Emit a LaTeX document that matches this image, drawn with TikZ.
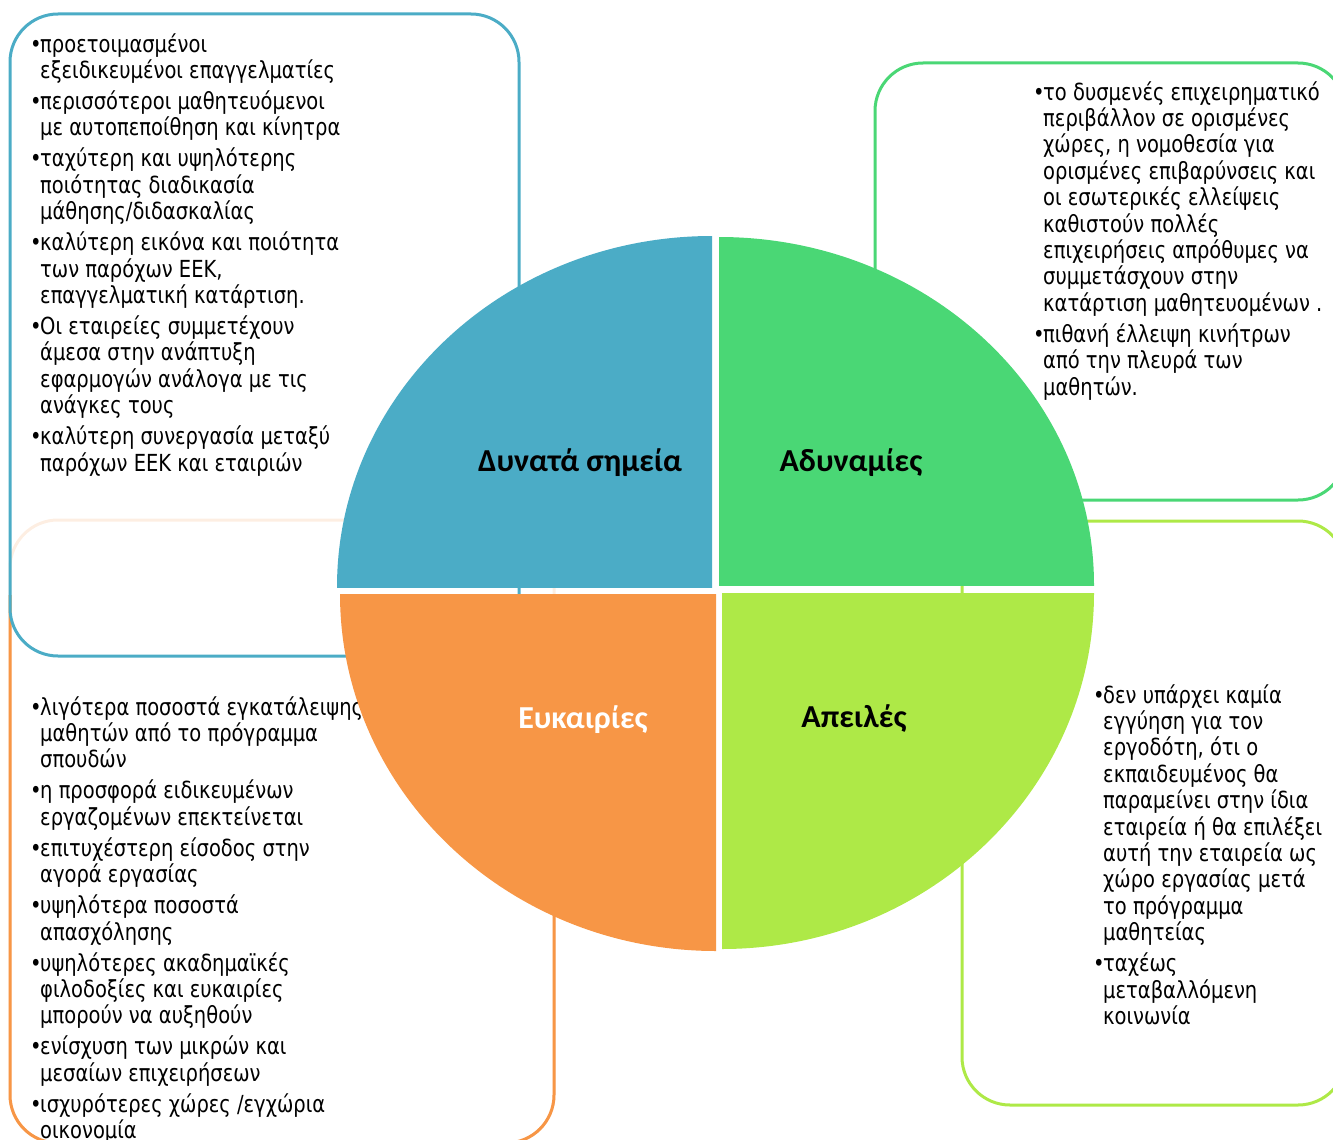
\documentclass[tikz,border=0pt]{standalone}
\usepackage{fontspec}
\setmainfont{DejaVu Sans}[FakeStretch=0.83]
\newfontfamily\labfont{Carlito}
\definecolor{cblue}{HTML}{4BACC6}
\definecolor{cgreen}{HTML}{4AD775}
\definecolor{corange}{HTML}{F79646}
\definecolor{clime}{HTML}{AEE947}
\definecolor{cpeach}{HTML}{FDEEE2}
\newcommand\bul{\makebox[10pt][l]{•}}
\newcommand\ind{\hspace*{10pt}}
\tikzset{
  swbox/.style={line width=3pt, rounded corners=48pt},
  txt/.style={inner sep=0pt, anchor=base west, align=left, font=\fontsize{23.5}{26.4}\selectfont},
  lab/.style={inner sep=0pt, font=\labfont\bfseries\fontsize{32}{38}\selectfont}
}
\begin{document}
\begin{tikzpicture}[x=1pt,y=-1pt]
\useasboundingbox (0,0) rectangle (1333,1140);
\clip (0,0) rectangle (1333,1140);
% background boxes
\draw[swbox, cpeach] (10,520) rectangle (554,1143);
\begin{scope}
  \clip (0,595) rectangle (1333,1200);
  \draw[swbox, corange] (10,520) rectangle (554,1143);
\end{scope}
\draw[swbox, cblue] (10,14) rectangle (519,656);
\draw[swbox, cgreen] (875,63) rectangle (1346,500);
\draw[swbox, clime] (962,521) rectangle (1346,1105);
% texts (anchored at the baseline of their last line)
\node[txt] (tS) at (30,471) {\bul προετοιμασμένοι\\
\ind εξειδικευμένοι επαγγελματίες\\[4.6pt]
\bul περισσότεροι μαθητευόμενοι\\
\ind με αυτοπεποίθηση και κίνητρα\\[4.6pt]
\bul ταχύτερη και υψηλότερης\\
\ind ποιότητας διαδικασία\\
\ind μάθησης/διδασκαλίας\\[4.6pt]
\bul καλύτερη εικόνα και ποιότητα\\
\ind των παρόχων ΕΕΚ,\\
\ind επαγγελματική κατάρτιση.\\[4.6pt]
\bul Οι εταιρείες συμμετέχουν\\
\ind άμεσα στην ανάπτυξη\\
\ind εφαρμογών ανάλογα με τις\\
\ind ανάγκες τους\\[4.6pt]
\bul καλύτερη συνεργασία μεταξύ\\
\ind παρόχων ΕΕΚ και εταιριών};
\node[txt] (tW) at (1033,395) {\bul το δυσμενές επιχειρηματικό\\
\ind περιβάλλον σε ορισμένες\\
\ind χώρες, η νομοθεσία για\\
\ind ορισμένες επιβαρύνσεις και\\
\ind οι εσωτερικές ελλείψεις\\
\ind καθιστούν πολλές\\
\ind επιχειρήσεις απρόθυμες να\\
\ind συμμετάσχουν στην\\
\ind κατάρτιση μαθητευομένων .\\[4.6pt]
\bul πιθανή έλλειψη κινήτρων\\
\ind από την πλευρά των\\
\ind μαθητών.};
\node[txt] (tO) at (30,1138.6) {\bul λιγότερα ποσοστά εγκατάλειψης\\
\ind μαθητών από το πρόγραμμα\\
\ind σπουδών\\[4.6pt]
\bul η προσφορά ειδικευμένων\\
\ind εργαζομένων επεκτείνεται\\[4.6pt]
\bul επιτυχέστερη είσοδος στην\\
\ind αγορά εργασίας\\[4.6pt]
\bul υψηλότερα ποσοστά\\
\ind απασχόλησης\\[4.6pt]
\bul υψηλότερες ακαδημαϊκές\\
\ind φιλοδοξίες και ευκαιρίες\\
\ind μπορούν να αυξηθούν\\[4.6pt]
\bul ενίσχυση των μικρών και\\
\ind μεσαίων επιχειρήσεων\\[4.6pt]
\bul ισχυρότερες χώρες /εγχώρια\\
\ind οικονομία};
\node[txt] (tT) at (1093,1024.4) {\bul δεν υπάρχει καμία\\
\ind εγγύηση για τον\\
\ind εργοδότη, ότι ο\\
\ind εκπαιδευμένος θα\\
\ind παραμείνει στην ίδια\\
\ind εταιρεία ή θα επιλέξει\\
\ind αυτή την εταιρεία ως\\
\ind χώρο εργασίας μετά\\
\ind το πρόγραμμα\\
\ind μαθητείας\\[4.6pt]
\bul ταχέως\\
\ind μεταβαλλόμενη\\
\ind κοινωνία};
% quadrants
\begin{scope}
  \clip (337,236) rectangle (712,587);
  \fill[cblue] (712,587) ellipse [x radius=375, y radius=351];
\end{scope}
\begin{scope}
  \clip (719,237) rectangle (1094,585);
  \fill[cgreen] (719,585) ellipse [x radius=375, y radius=348];
\end{scope}
\begin{scope}
  \clip (340,594) rectangle (716,951);
  \fill[corange] (716,594) ellipse [x radius=376, y radius=357];
\end{scope}
\begin{scope}
  \clip (722,593) rectangle (1094,949);
  \fill[clime] (722,593) ellipse [x radius=372, y radius=356];
\end{scope}
% labels
\node[lab] (lS) at (580,463) {Δυνατά σημεία};
\node[lab] (lW) at (851,463) {Αδυναμίες};
\node[lab, text=white] (lO) at (583,720) {Ευκαιρίες};
\node[lab] (lT) at (854,718) {Απειλές};
\end{tikzpicture}
\end{document}
